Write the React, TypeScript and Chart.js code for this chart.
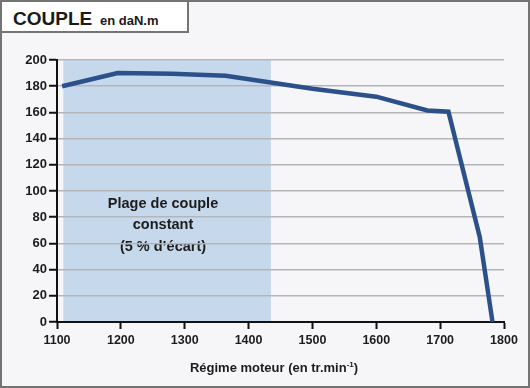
import React, { useEffect, useRef } from "react";
import { Chart, registerables } from "chart.js";

Chart.register(...registerables);

// ---- data ----
const rpm = [1108, 1195, 1280, 1364, 1500, 1600, 1680, 1713, 1762, 1782];
const torque = [180, 190, 189.5, 188, 178, 172, 161.5, 160.5, 65, 0];
const xMin = 1100;
const xMax = 1800;
const xStep = 100;
const yMin = 0;
const yMax = 200;
const yStep = 20;
const bandStart = 1110;
const bandEnd = 1435;
const bandLabel = ["Plage de couple", "constant", "(5 % d’écart)"];
const titleMain = "COUPLE";
const titleUnit = "en daN.m";
const xTitle = "Régime moteur (en tr.min";
const xTitleSup = "-1";
const xTitleEnd = ")";

const FONT = '"Liberation Sans", Arial, Helvetica, sans-serif';
const NARROW = '"Liberation Sans Narrow", "Arial Narrow", "Liberation Sans", Arial, sans-serif';

const bandPlugin = {
  id: "bandPlugin",
  beforeDraw(chart: any) {
    const { ctx, scales } = chart;
    const x = scales.x;
    const y = scales.y;
    const x0 = x.getPixelForValue(bandStart);
    const x1 = x.getPixelForValue(bandEnd);
    const y0 = y.getPixelForValue(yMax);
    const y1 = y.getPixelForValue(yMin);
    ctx.save();
    ctx.fillStyle = "#c6d8ec";
    ctx.fillRect(x0, y0, x1 - x0, y1 - y0);
    ctx.fillStyle = "#1c1c1c";
    ctx.font = `bold 14.5px ${FONT}`;
    ctx.textAlign = "center";
    ctx.textBaseline = "middle";
    const cx = 163;
    const cy = 204;
    bandLabel.forEach((t, i) => ctx.fillText(t, cx, cy + i * 21.3));
    ctx.restore();
  },
  afterDraw(chart: any) {
    const { ctx } = chart;
    ctx.save();
    ctx.fillStyle = "#1c1c1c";
    ctx.textBaseline = "alphabetic";
    ctx.textAlign = "left";
    const main = `bold 13px ${FONT}`;
    const sup = `bold 8px ${FONT}`;
    ctx.font = main;
    const w1 = ctx.measureText(xTitle).width;
    const w3 = ctx.measureText(xTitleEnd).width;
    ctx.font = sup;
    const w2 = ctx.measureText(xTitleSup).width;
    const total = w1 + w2 + w3;
    const cx = 274;
    const base = 372;
    let xx = cx - total / 2;
    ctx.font = main;
    ctx.fillText(xTitle, xx, base);
    xx += w1;
    ctx.font = sup;
    ctx.fillText(xTitleSup, xx, base - 5);
    xx += w2;
    ctx.font = main;
    ctx.fillText(xTitleEnd, xx, base);
    ctx.restore();
  },
};

export default function App() {
  const ref = useRef<HTMLCanvasElement | null>(null);

  useEffect(() => {
    if (!ref.current) return;
    const chart = new Chart(ref.current, {
      type: "line",
      data: {
        datasets: [
          {
            label: "Couple",
            data: rpm.map((r, i) => ({ x: r, y: torque[i] })),
            borderColor: "#2c5089",
            borderWidth: 4.5,
            pointRadius: 0,
            fill: false,
            tension: 0,
          },
        ],
      },
      options: {
        animation: false,
        responsive: false,
        events: [],
        layout: { padding: { top: 60, right: 26, bottom: 0, left: 0 } },
        plugins: {
          legend: { display: false },
          tooltip: { enabled: false },
          title: { display: false },
        },
        scales: {
          x: {
            type: "linear",
            min: xMin,
            max: xMax,
            afterFit(s: any) {
              s.height = 66;
            },
            ticks: {
              stepSize: xStep,
              autoSkip: false,
              maxRotation: 0,
              padding: 4,
              color: "#1c1c1c",
              font: { family: NARROW, size: 12.5, weight: "bold" },
              callback: (v: any) => String(v),
            },
            grid: {
              drawOnChartArea: false,
              drawTicks: true,
              tickLength: 7,
              tickColor: "#111",
              tickWidth: 2,
            },
            border: { color: "#111", width: 2 },
          },
          y: {
            type: "linear",
            min: yMin,
            max: yMax,
            afterFit(s: any) {
              s.width = 57;
            },
            ticks: {
              stepSize: yStep,
              padding: 2,
              color: "#1c1c1c",
              font: { family: FONT, size: 13, weight: "bold" },
              callback: (v: any) => String(v),
            },
            grid: {
              color: "#b5b5b8",
              lineWidth: 1.5,
              tickLength: 8,
              tickColor: "#111",
              tickWidth: 2,
            },
            border: { color: "#111", width: 2 },
          },
        },
      },
      plugins: [bandPlugin],
    });
    return () => chart.destroy();
  }, []);

  return (
    <div
      style={{
        position: "absolute",
        left: 0,
        top: 0,
        width: 530,
        height: 388,
        background: "#f6f5f8",
        overflow: "hidden",
      }}
    >
      <canvas
        ref={ref}
        width={530}
        height={388}
        style={{ position: "absolute", left: 0, top: 0, width: 530, height: 388 }}
      />
      <div
        style={{
          position: "absolute",
          left: 0,
          top: 0,
          width: 530,
          height: 388,
          boxSizing: "border-box",
          border: "2px solid #747474",
          pointerEvents: "none",
        }}
      />
      <div
        style={{
          position: "absolute",
          left: 0,
          top: 0,
          width: 189,
          height: 33,
          boxSizing: "border-box",
          border: "2px solid #747474",
          background: "#ffffff",
        }}
      >
        <span
          style={{
            position: "absolute",
            left: 11,
            top: 7,
            fontFamily: FONT,
            fontWeight: "bold",
            fontSize: 19,
            lineHeight: "19px",
            color: "#1a1a1a",
            whiteSpace: "nowrap",
          }}
        >
          {titleMain}
        </span>
        <span
          style={{
            position: "absolute",
            left: 98,
            top: 12,
            fontFamily: FONT,
            fontWeight: "bold",
            fontSize: 13,
            lineHeight: "13px",
            color: "#1a1a1a",
            whiteSpace: "nowrap",
          }}
        >
          {titleUnit}
        </span>
      </div>
    </div>
  );
}
